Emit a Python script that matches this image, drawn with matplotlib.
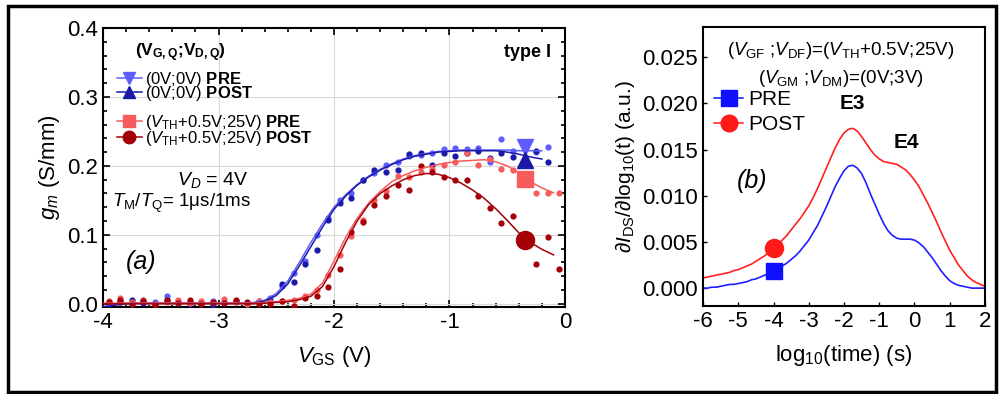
import numpy as np
import matplotlib
matplotlib.use("Agg")
import matplotlib.pyplot as plt
from matplotlib.patches import Rectangle

plt.rcParams["font.family"] = ["Liberation Sans", "DejaVu Sans"]
plt.rcParams["mathtext.fontset"] = "custom"
plt.rcParams["mathtext.rm"] = "Liberation Sans"
plt.rcParams["mathtext.it"] = "Liberation Sans:italic"
plt.rcParams["mathtext.bf"] = "Liberation Sans:bold"

# ---- panel (a): gm vs VGS ----
vgs = np.round(np.arange(-3.95, 0.0, 0.1), 2)   # measured sweep points

gm_blue_pre = [0.002, 0.004, 0.000, 0.006, 0.003, 0.011, 0.001, 0.003, 0.000, 0.004,
               0.002, 0.003, 0.001, 0.004,
               0.008, 0.026, 0.045, 0.062, 0.100, 0.125, 0.150, 0.160, 0.180, 0.190,
               0.202, 0.205, 0.214, 0.216, 0.219, 0.224, 0.226, 0.224, 0.226, 0.205,
               0.239, 0.222, 0.225, 0.220, 0.227, np.nan]
gm_blue_post = [0.000, 0.003, 0.005, 0.001, 0.000, 0.006, 0.002, 0.000, 0.003, -0.002,
                0.001, 0.004, 0.000, 0.002,
                0.004, 0.029, 0.032, 0.058, 0.078, 0.122, 0.146, 0.154, 0.179, 0.194,
                0.191, 0.194, 0.217, 0.218, 0.202, 0.218, 0.215, 0.219, 0.222, 0.212,
                0.218, 0.213, 0.208, 0.222, 0.205, np.nan]
gm_red_pre = [0.004, 0.008, 0.002, 0.005, 0.000, 0.003, 0.006, 0.001, 0.004, 0.002,
              0.007, 0.003, 0.000, 0.004,
              0.002, 0.004, 0.006, 0.012, 0.020, 0.042, 0.071, 0.098, 0.122, 0.150,
              0.163, 0.186, 0.184, 0.191, 0.196, 0.202, 0.205, 0.218, 0.201, 0.210,
              0.196, 0.194, 0.185, 0.160, 0.160, 0.160]
gm_red_post = [0.003, 0.006, 0.000, 0.004, -0.002, 0.005, 0.001, 0.006, 0.000, 0.003,
               0.001, 0.005, 0.002, 0.000,
               0.000, 0.004, -0.003, 0.008, 0.012, 0.025, 0.050, 0.104, 0.119, 0.143,
               0.157, 0.173, 0.165, 0.200, 0.191, 0.184, 0.179, 0.179, 0.156, 0.139,
               0.117, 0.127, 0.092, 0.058, 0.097, 0.050]

# fitted curves
fit_x = np.round(np.arange(-4.0, -0.05, 0.1), 2)
fit_blue_pre = [-0.004, -0.001, 0.001, 0.001, 0.001, 0.001, 0.001, 0.001, 0.001, 0.001,
                0.001, 0.001, 0.001, 0.002, 0.005, 0.015, 0.033, 0.060, 0.089, 0.116,
                0.140, 0.158, 0.173, 0.185, 0.195, 0.203, 0.210, 0.215, 0.218, 0.221,
                0.222, 0.223, 0.223, 0.223, 0.223, 0.223, 0.222, 0.222, 0.222, np.nan]
fit_blue_post = [-0.005, -0.002, 0.000, 0.001, 0.001, 0.001, 0.001, 0.001, 0.001, 0.001,
                 0.001, 0.001, 0.001, 0.001, 0.004, 0.012, 0.029, 0.055, 0.083, 0.111,
                 0.137, 0.156, 0.172, 0.184, 0.194, 0.202, 0.209, 0.214, 0.217, 0.220,
                 0.221, 0.222, 0.222, 0.222, 0.222, 0.220, 0.217, 0.213, 0.210, np.nan]
fit_red_pre = [0.001, 0.001, 0.001, 0.001, 0.001, 0.001, 0.001, 0.001, 0.001, 0.001,
               0.001, 0.001, 0.001, 0.001, 0.002, 0.003, 0.005, 0.008, 0.014, 0.030,
               0.062, 0.096, 0.124, 0.146, 0.163, 0.177, 0.186, 0.193, 0.198, 0.202,
               0.205, 0.207, 0.208, 0.209, 0.206, 0.200, 0.190, 0.177, 0.168, 0.161]
fit_red_post = [0.000, 0.000, 0.000, 0.000, 0.000, 0.000, 0.000, 0.000, 0.000, 0.000,
                0.000, 0.000, 0.000, 0.000, 0.001, 0.002, 0.003, 0.006, 0.011, 0.025,
                0.054, 0.089, 0.120, 0.144, 0.160, 0.171, 0.180, 0.186, 0.189, 0.188,
                0.183, 0.175, 0.165, 0.153, 0.138, 0.121, 0.103, 0.089, 0.079, 0.071]

# large symbols at VGS = -0.35 V
big_x = -0.35
big_blue_pre, big_blue_post, big_red_pre, big_red_post = 0.227, 0.208, 0.181, 0.092

c_bpre, c_bpost = "#5c5cff", "#1a1aa6"
c_rpre, c_rpost = "#f65c5c", "#a30008"

# ---- panel (b): derivative spectra ----
logt = np.arange(-6.0, 2.001, 0.125)
deriv_pre = [0.0000, 0.0000, 0.0001, 0.0001, 0.0002, 0.0003, 0.0004, 0.0004, 0.0005,
             0.0006, 0.0007, 0.0009, 0.0010, 0.0012, 0.0014, 0.0016, 0.0018, 0.0021,
             0.0024, 0.0027, 0.0031, 0.0035, 0.0040, 0.0046, 0.0052, 0.0060, 0.0068,
             0.0078, 0.0088, 0.0099, 0.0110, 0.0119, 0.0127, 0.0132, 0.0133, 0.0130,
             0.0124, 0.0114, 0.0102, 0.0091, 0.0080, 0.0070, 0.0062, 0.0057, 0.0054,
             0.0053, 0.0053, 0.0053, 0.0052, 0.0049, 0.0045, 0.0039, 0.0033, 0.0026,
             0.0019, 0.0013, 0.0008, 0.0005, 0.0003, 0.0002, 0.0001, 0.0000, 0.0000,
             0.0000, 0.0000]
deriv_post = [0.0011, 0.0012, 0.0013, 0.0014, 0.0015, 0.0016, 0.0017, 0.0019, 0.0020,
              0.0022, 0.0024, 0.0026, 0.0029, 0.0032, 0.0035, 0.0039, 0.0043, 0.0047,
              0.0052, 0.0057, 0.0063, 0.0069, 0.0075, 0.0082, 0.0089, 0.0098, 0.0108,
              0.0119, 0.0130, 0.0141, 0.0152, 0.0161, 0.0168, 0.0172, 0.0173, 0.0170,
              0.0164, 0.0157, 0.0150, 0.0144, 0.0140, 0.0137, 0.0136, 0.0135, 0.0134,
              0.0131, 0.0128, 0.0123, 0.0117, 0.0110, 0.0101, 0.0092, 0.0082, 0.0072,
              0.0061, 0.0051, 0.0041, 0.0033, 0.0025, 0.0019, 0.0013, 0.0009, 0.0006,
              0.0004, 0.0002]
mark_t = -4.0
mark_pre, mark_post = 0.0018, 0.0043

fig = plt.figure(figsize=(10, 3.94), dpi=100)
ax1 = fig.add_axes([0.103, 0.221, 0.462, 0.708])
ax2 = fig.add_axes([0.703, 0.223, 0.282, 0.708])

# panel (a)
ax1.plot(vgs, gm_blue_pre, "o", color=c_bpre, ms=4.5, mec="none", zorder=3)
ax1.plot(vgs, gm_blue_post, "o", color=c_bpost, ms=4.5, mec="none", zorder=3)
ax1.plot(vgs, gm_red_pre, "o", color=c_rpre, ms=4.5, mec="none", zorder=3)
ax1.plot(vgs, gm_red_post, "o", color=c_rpost, ms=4.5, mec="none", zorder=3)
ax1.plot(fit_x, fit_blue_pre, "-", color=c_bpre, lw=1.1, zorder=4)
ax1.plot(fit_x, fit_blue_post, "-", color=c_bpost, lw=1.1, zorder=4)
ax1.plot(fit_x, fit_red_pre, "-", color=c_rpre, lw=1.1, zorder=4)
ax1.plot(fit_x, fit_red_post, "-", color=c_rpost, lw=1.1, zorder=4)
ax1.plot(big_x, big_blue_pre, "v", color=c_bpre, ms=12, zorder=5)
ax1.plot(big_x, big_blue_post, "^", color=c_bpost, ms=12, zorder=5)
ax1.plot(big_x, big_red_pre, "s", color=c_rpre, ms=12, zorder=5)
ax1.plot(big_x, big_red_post, "o", color=c_rpost, ms=13, zorder=5)

ax1.set_xlim(-4, 0)
ax1.set_ylim(-0.0045, 0.4)
ax1.set_xticks([-4, -3, -2, -1, 0])
ax1.set_xticklabels(["-4", "-3", "-2", "-1", "0"])
ax1.set_yticks([0.0, 0.1, 0.2, 0.3, 0.4])
ax1.set_xticks(np.arange(-4, 0.01, 0.2), minor=True)
ax1.set_yticks(np.arange(0, 0.401, 0.02), minor=True)
ax1.grid(True, which="major", color="#d9d9d9", lw=0.8)
ax1.tick_params(which="both", direction="in", top=True, right=True, labelsize=16, width=1.2)
ax1.tick_params(which="major", length=5)
ax1.tick_params(which="minor", length=3)
for s in ax1.spines.values():
    s.set_linewidth(1.5)
ax1.set_xlabel(r"$V_{\rm GS}$ (V)", fontsize=16, labelpad=8)
ax1.set_ylabel(r"$g_m$ (S/mm)", fontsize=16, labelpad=4)

# legend of panel (a), two groups
ax1.text(0.07, 0.912, r"($\mathbf{V_{G,Q}}$;$\mathbf{V_{D,Q}}$)", transform=ax1.transAxes,
         fontsize=12.5, fontweight="bold", va="center")
h1, = ax1.plot([], [], "-v", color=c_bpre, ms=9, lw=1.1)
h2, = ax1.plot([], [], "-^", color=c_bpost, ms=9, lw=1.1)
h3, = ax1.plot([], [], "-s", color=c_rpre, ms=9, lw=1.1)
h4, = ax1.plot([], [], "-o", color=c_rpost, ms=9, lw=1.1)
leg1 = ax1.legend([h1, h2], [r"(0V;0V) $\mathbf{PRE}$", r"(0V;0V) $\mathbf{POST}$"],
                  loc="upper left", bbox_to_anchor=(0.03, 0.85), frameon=False,
                  fontsize=12, labelspacing=-0.3, handlelength=1.5, handletextpad=0.2,
                  borderpad=0, borderaxespad=0)
ax1.add_artist(leg1)
ax1.legend([h3, h4], [r"($V_{\rm TH}$+0.5V;25V) $\mathbf{PRE}$",
                      r"($V_{\rm TH}$+0.5V;25V) $\mathbf{POST}$"],
           loc="upper left", bbox_to_anchor=(0.03, 0.695), frameon=False,
           fontsize=12, labelspacing=-0.2, handlelength=1.5, handletextpad=0.2,
           borderpad=0, borderaxespad=0)

ax1.text(0.97, 0.912, "type I", transform=ax1.transAxes, fontsize=13,
         fontweight="bold", ha="right", va="center")
ax1.text(0.16, 0.455, r"$V_D$ = 4V", transform=ax1.transAxes, fontsize=14, va="center")
ax1.text(0.02, 0.37, r"$T_{\rm M}$/$T_{\rm Q}$= 1μs/1ms", transform=ax1.transAxes,
         fontsize=13.5, va="center")
ax1.text(0.05, 0.16, "(a)", transform=ax1.transAxes, fontsize=18, style="italic",
         va="center")

# panel (b)
ax2.plot(logt, deriv_pre, "-", color="#1f1fff", lw=1.2)
ax2.plot(logt, deriv_post, "-", color="#ff2020", lw=1.2)
ax2.plot(mark_t, mark_pre, "s", color="#1010ff", ms=12, zorder=5)
ax2.plot(mark_t, mark_post, "o", color="#ff1a1a", ms=13, zorder=5)
ax2.set_xlim(-6, 2)
ax2.set_ylim(-0.00195, 0.02825)
ax2.set_xticks(np.arange(-6, 3, 1))
ax2.set_xticklabels([str(v) for v in range(-6, 3)])
ax2.set_yticks([0.0, 0.005, 0.010, 0.015, 0.020, 0.025])
ax2.set_yticklabels(["0.000", "0.005", "0.010", "0.015", "0.020", "0.025"])
ax2.tick_params(direction="in", labelsize=16, length=3, width=1)
for s in ax2.spines.values():
    s.set_linewidth(1.5)
ax2.set_xlabel(r"log$_{10}$(time) (s)", fontsize=16, labelpad=8)
ax2.set_ylabel(r"$\partial I_{\rm DS}$/$\partial$log$_{10}$(t) (a.u.)", fontsize=15,
               labelpad=4)

hp, = ax2.plot([], [], "-s", color="#1010ff", ms=11, lw=1.1)
hq, = ax2.plot([], [], "-o", color="#ff1a1a", ms=12, lw=1.1)
ax2.legend([hp, hq], ["PRE", "POST"], loc="upper left", bbox_to_anchor=(0.04, 0.775),
           frameon=False, fontsize=15, labelspacing=0.3, handlelength=1.4,
           handletextpad=0.25, borderpad=0, borderaxespad=0)
ax2.text(0.49, 0.915, r"($V_{\rm GF}$ ;$V_{\rm DF}$)=($V_{\rm TH}$+0.5V;25V)",
         transform=ax2.transAxes, fontsize=13.5, ha="center", va="center")
ax2.text(0.49, 0.815, r"($V_{\rm GM}$ ;$V_{\rm DM}$)=(0V;3V)",
         transform=ax2.transAxes, fontsize=13.5, ha="center", va="center")
ax2.text(0.53, 0.725, "E3", transform=ax2.transAxes, fontsize=15, fontweight="bold",
         ha="center", va="center")
ax2.text(0.72, 0.585, "E4", transform=ax2.transAxes, fontsize=15, fontweight="bold",
         ha="center", va="center")
ax2.text(0.12, 0.45, "(b)", transform=ax2.transAxes, fontsize=18, style="italic",
         va="center")

# outer frame
fig.add_artist(Rectangle((0.008, 0.006), 0.988, 0.98, transform=fig.transFigure,
                         fill=False, ec="black", lw=2.5))

fig.savefig("out.png", dpi=100)
